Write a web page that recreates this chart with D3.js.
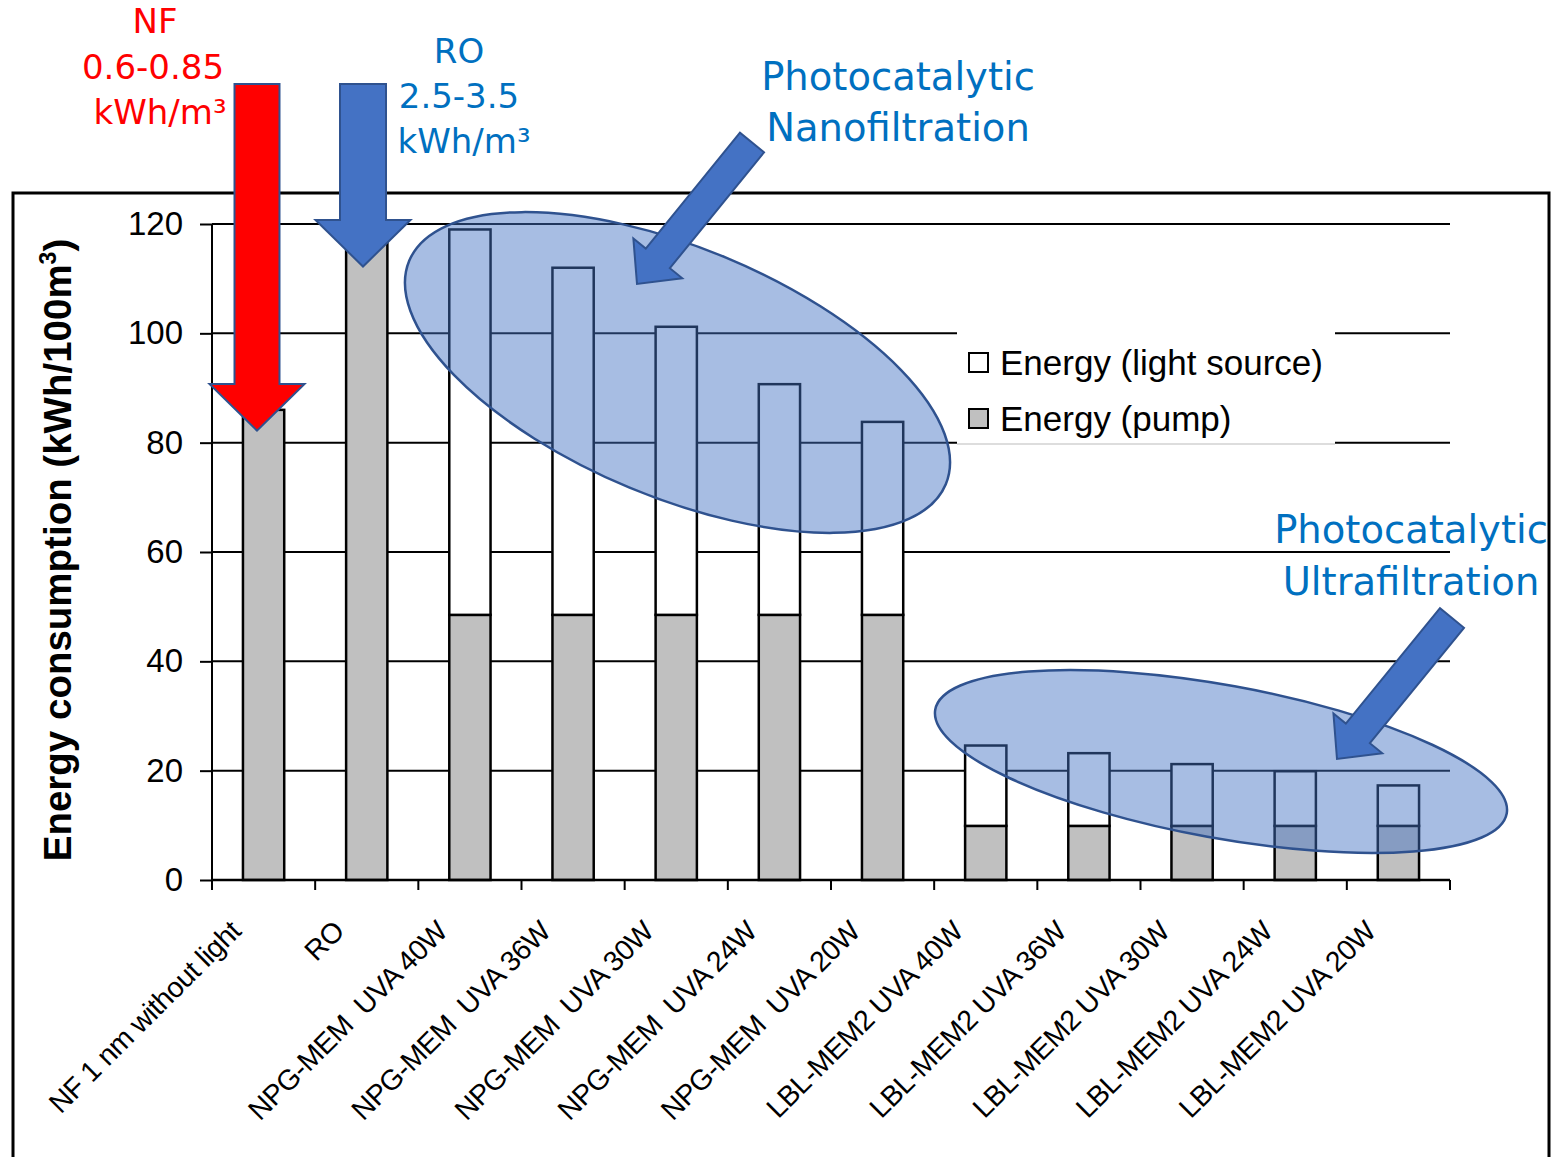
<!DOCTYPE html>
<html><head><meta charset="utf-8">
<script src="https://cdn.jsdelivr.net/npm/d3@7"></script>
<style>body{margin:0;background:#fff}</style>
</head><body>
<svg id="c" width="1554" height="1157"></svg>
<script>
// ---- data ----
const categories = ["NF 1 nm without light","RO","NPG-MEM  UVA 40W","NPG-MEM  UVA 36W","NPG-MEM  UVA 30W","NPG-MEM  UVA 24W","NPG-MEM  UVA 20W","LBL-MEM2 UVA 40W","LBL-MEM2 UVA 36W","LBL-MEM2 UVA 30W","LBL-MEM2 UVA 24W","LBL-MEM2 UVA 20W"];
const pumpEnergy  = [86, 120, 48.5, 48.5, 48.5, 48.5, 48.5, 9.9, 9.9, 9.9, 9.9, 9.9];
const lightEnergy = [0, 0, 70.5, 63.5, 52.7, 42.2, 35.3, 14.7, 13.3, 11.3, 10.0, 7.4];
const yTicks = [0, 20, 40, 60, 80, 100, 120];
const seriesNames = ["Energy (light source)", "Energy (pump)"];
const yTitle = "Energy consumption (kWh/100m";

// ---- annotations (decoration, pixel space) ----
const noteTexts = [
  {t:"NF", x:155, y:33, c:"#FF0000", s:34},
  {t:"0.6-0.85", x:153, y:79, c:"#FF0000", s:34},
  {t:"kWh/m³", x:160, y:124, c:"#FF0000", s:34},
  {t:"RO", x:459, y:63, c:"#0070C0", s:34},
  {t:"2.5-3.5", x:459, y:108, c:"#0070C0", s:34},
  {t:"kWh/m³", x:464, y:153, c:"#0070C0", s:34},
  {t:"Photocatalytic", x:898, y:90, c:"#0070C0", s:38.5},
  {t:"Nanofiltration", x:898, y:141, c:"#0070C0", s:38.5},
  {t:"Photocatalytic", x:1411, y:543, c:"#0070C0", s:38.5},
  {t:"Ultrafiltration", x:1411, y:595, c:"#0070C0", s:38.5}
];
const ellipses = [
  {cx:677.5, cy:372.5, rx:290.6, ry:124.7, rot:22.6},
  {cx:1221, cy:761.5, rx:290.4, ry:76.5, rot:10.3}
];
const arrows = [
  {tx:257, ty:84, hx:257, hy:430.7, sw:22.5, hw:47.5, hl:46.7, fill:"#FF0000"},
  {tx:363, ty:84, hx:363, hy:266.5, sw:23, hw:47.5, hl:46.5, fill:"#4472C4"},
  {tx:752, ty:142.5, hx:637, hy:284, sw:15.5, hw:31.5, hl:33, fill:"#4472C4"},
  {tx:1452, ty:618, hx:1337, hy:759, sw:15.5, hw:31.5, hl:33, fill:"#4472C4"}
];

const svg = d3.select("#c");
const x = d3.scaleBand().domain(categories).range([212, 1450]).paddingInner(0.6).paddingOuter(0.3);
const y = d3.scaleLinear().domain([0, 120]).range([880, 224]);

// frame
svg.append("rect").attr("x", 13).attr("y", 193).attr("width", 1536).attr("height", 1100)
  .attr("fill", "#fff").attr("stroke", "#000").attr("stroke-width", 3);

// gridlines
svg.append("g").selectAll("line").data(yTicks.filter(d => d > 0)).join("line")
  .attr("x1", x.range()[0]).attr("x2", x.range()[1])
  .attr("y1", d => y(d)).attr("y2", d => y(d))
  .attr("stroke", "#000").attr("stroke-width", 2);

// legend background
svg.append("rect").attr("x", 957).attr("y", 331).attr("width", 378).attr("height", 113).attr("fill", "#fff");
svg.append("line").attr("x1", 957).attr("x2", 1335).attr("y1", 444).attr("y2", 444).attr("stroke", "#bbb").attr("stroke-width", 1);

// bars
const stacked = categories.map((c, i) => ({c, pump: pumpEnergy[i], light: lightEnergy[i]}));
const bars = svg.append("g");
bars.selectAll("rect.pump").data(stacked).join("rect").attr("class", "pump")
  .attr("x", d => x(d.c)).attr("width", x.bandwidth())
  .attr("y", d => y(d.pump)).attr("height", d => y(0) - y(d.pump))
  .attr("fill", "#C0C0C0").attr("stroke", "#000").attr("stroke-width", 2.5);
bars.selectAll("rect.light").data(stacked.filter(d => d.light > 0)).join("rect").attr("class", "light")
  .attr("x", d => x(d.c)).attr("width", x.bandwidth())
  .attr("y", d => y(d.pump + d.light)).attr("height", d => y(d.pump) - y(d.pump + d.light))
  .attr("fill", "#fff").attr("stroke", "#000").attr("stroke-width", 2.5);

// y axis
const yAxis = svg.append("g").attr("transform", `translate(${x.range()[0]},0)`)
  .call(d3.axisLeft(y).tickValues(yTicks).tickSize(12).tickPadding(17));
yAxis.select(".domain").attr("stroke", "#000").attr("stroke-width", 2).attr("d", `M0,${y(120)}V${y(0)}`);
yAxis.selectAll(".tick line").attr("stroke", "#000").attr("stroke-width", 2);
yAxis.selectAll(".tick text").attr("font-family", "Liberation Sans, Arial, sans-serif").attr("font-size", 33).attr("fill", "#000");

// x axis
svg.append("line").attr("x1", x.range()[0]).attr("x2", x.range()[1]).attr("y1", y(0)).attr("y2", y(0))
  .attr("stroke", "#000").attr("stroke-width", 2.5);
const bounds = d3.range(categories.length + 1).map(i => x.range()[0] + i * x.step());
svg.append("g").selectAll("line").data(bounds).join("line")
  .attr("x1", d => d).attr("x2", d => d).attr("y1", y(0)).attr("y2", y(0) + 10)
  .attr("stroke", "#000").attr("stroke-width", 2);
svg.append("g").selectAll("text").data(categories).join("text")
  .attr("transform", d => `translate(${x(d) + x.bandwidth() / 2 - 21},933) rotate(-45)`)
  .attr("text-anchor", "end")
  .attr("font-family", "Liberation Sans, Arial, sans-serif").attr("font-size", 28.5)
  .attr("letter-spacing", -0.5).attr("xml:space", "preserve")
  .style("white-space", "pre")
  .text(d => d);

// y title
const yt = svg.append("text").attr("transform", "translate(71,550) rotate(-90)")
  .attr("text-anchor", "middle").attr("font-family", "Liberation Sans, Arial, sans-serif")
  .attr("font-weight", "bold").attr("font-size", 38.5);
yt.append("tspan").text(yTitle);
yt.append("tspan").attr("dy", -15).attr("font-size", 23).text("3");
yt.append("tspan").attr("dy", 15).text(")");

// legend
const leg = svg.append("g");
seriesNames.forEach((n, i) => {
  leg.append("rect").attr("x", 969).attr("y", 353 + i * 56).attr("width", 19).attr("height", 19)
    .attr("fill", i === 0 ? "#fff" : "#C0C0C0").attr("stroke", "#000").attr("stroke-width", 2);
  leg.append("text").attr("x", 1000).attr("y", 375 + i * 56)
    .attr("font-family", "Liberation Sans, Arial, sans-serif").attr("font-size", 35).text(n);
});

// ellipses
svg.append("g").selectAll("ellipse").data(ellipses).join("ellipse")
  .attr("transform", d => `translate(${d.cx},${d.cy}) rotate(${d.rot})`)
  .attr("rx", d => d.rx).attr("ry", d => d.ry)
  .attr("fill", "#4472C4").attr("fill-opacity", 0.47)
  .attr("stroke", "#2F528F").attr("stroke-width", 2.5);

// arrows
function arrowPath(a) {
  const dx = a.hx - a.tx, dy = a.hy - a.ty, L = Math.hypot(dx, dy);
  const ux = dx / L, uy = dy / L, px = -uy, py = ux;
  const bx = a.hx - ux * a.hl, by = a.hy - uy * a.hl;
  const pts = [
    [a.tx + px * a.sw, a.ty + py * a.sw],
    [bx + px * a.sw, by + py * a.sw],
    [bx + px * a.hw, by + py * a.hw],
    [a.hx, a.hy],
    [bx - px * a.hw, by - py * a.hw],
    [bx - px * a.sw, by - py * a.sw],
    [a.tx - px * a.sw, a.ty - py * a.sw]
  ];
  return d3.line()(pts) + "Z";
}
svg.append("g").selectAll("path").data(arrows).join("path")
  .attr("d", arrowPath).attr("fill", d => d.fill)
  .attr("stroke", "#2F528F").attr("stroke-width", 2).attr("stroke-linejoin", "miter");

// annotation texts
svg.append("g").selectAll("text").data(noteTexts).join("text")
  .attr("x", d => d.x).attr("y", d => d.y).attr("text-anchor", "middle")
  .attr("font-family", "DejaVu Sans, Verdana, sans-serif")
  .attr("font-size", d => d.s).attr("fill", d => d.c).text(d => d.t);
</script>
</body></html>
